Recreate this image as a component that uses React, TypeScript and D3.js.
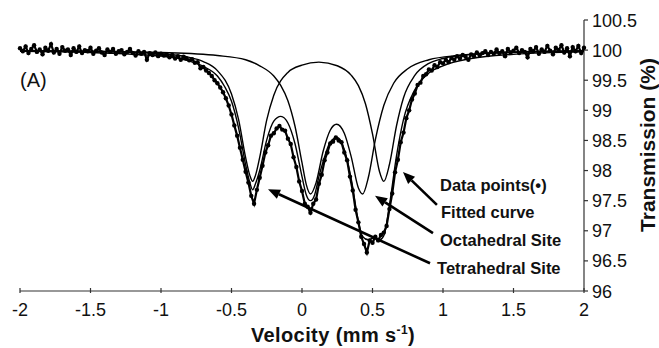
import React from 'react';
import * as d3 from 'd3';

// ---- data ----
const X_TICKS = [-2, -1.5, -1, -0.5, 0, 0.5, 1, 1.5, 2];
const Y_TICKS = [96, 96.5, 97, 97.5, 98, 98.5, 99, 99.5, 100, 100.5];

// measured spectrum, channels from -2 to 2 mm/s in 0.02 steps
const DATA_V0 = -2;
const DATA_STEP = 0.02;
const DATA_T = [
  100.03, 99.98, 100.06, 99.95, 100.02, 100.08, 99.97, 100.01, 99.93, 100.04,
  99.99, 100.1, 99.96, 100.02, 99.94, 100.05, 99.99, 100.01, 99.92, 100.03,
  99.97, 100.06, 99.95, 100.0, 99.98, 100.04, 99.94, 99.99, 100.03, 99.96,
  99.92, 100.01, 99.97, 100.02, 99.94, 99.98, 100.0, 99.93, 99.97, 100.02,
  99.95, 99.91, 99.98, 99.94, 99.97, 99.84, 99.95, 99.92, 99.96, 99.9,
  99.94, 99.91, 99.93, 99.88, 99.92, 99.86, 99.9, 99.84, 99.89, 99.86,
  99.83, 99.85, 99.79, 99.8, 99.7, 99.72, 99.66, 99.62, 99.57, 99.5,
  99.45, 99.38, 99.3, 99.2, 99.08, 98.93, 98.75, 98.58, 98.38, 98.18,
  97.98, 97.8, 97.58, 97.45, 97.68, 97.88, 98.08, 98.3, 98.42, 98.58,
  98.62, 98.7, 98.74, 98.68, 98.66, 98.53, 98.44, 98.22, 98.06, 97.82,
  97.66, 97.45, 97.4, 97.3, 97.45, 97.52, 97.78, 97.93, 98.17, 98.3,
  98.45, 98.48, 98.55, 98.5, 98.47, 98.3, 98.17, 97.9, 97.67, 97.35,
  97.14, 96.9, 96.78, 96.64, 96.84, 96.8, 96.9, 96.84, 96.93, 96.97,
  97.08, 97.36, 97.62, 97.97, 98.18, 98.47, 98.63, 98.87, 99.0, 99.18,
  99.28, 99.42, 99.46, 99.57, 99.6, 99.68, 99.66, 99.75, 99.72, 99.8,
  99.78, 99.84, 99.8, 99.87, 99.84, 99.9, 99.86, 99.92, 99.89, 99.84,
  99.93, 99.9, 99.96, 99.91, 99.95, 99.98, 99.92, 99.97, 99.94, 100.01,
  99.95, 99.98, 99.9, 100.02, 99.96, 99.99, 100.04, 99.95, 100.0, 99.97,
  99.88, 100.02, 99.98, 100.05, 99.94, 100.01, 99.97, 100.07, 99.99, 99.93,
  100.04, 100.0, 100.08, 99.96, 100.03, 99.9, 100.05, 99.98, 100.07, 99.95,
  100.04,
];

// fitted total curve
const FIT_V = [-2, -1.5, -1.2, -1.0, -0.8, -0.7, -0.6, -0.55, -0.5, -0.45, -0.4, -0.37, -0.35, -0.33, -0.3, -0.25, -0.2, -0.15, -0.1, -0.05, 0, 0.03, 0.06, 0.09, 0.12, 0.15, 0.2, 0.25, 0.3, 0.35, 0.4, 0.43, 0.47, 0.51, 0.55, 0.58, 0.62, 0.67, 0.72, 0.8, 0.9, 1.0, 1.2, 1.5, 2];
const FIT_T = [99.98, 99.96, 99.93, 99.9, 99.82, 99.73, 99.57, 99.4, 99.15, 98.71, 98.1, 97.8, 97.68, 97.78, 98.0, 98.51, 98.82, 98.9, 98.79, 98.45, 97.9, 97.6, 97.5, 97.6, 97.9, 98.15, 98.47, 98.55, 98.35, 97.85, 97.15, 96.9, 96.85, 96.88, 96.85, 96.92, 97.42, 98.24, 98.85, 99.34, 99.62, 99.74, 99.86, 99.93, 99.97];

// sub-spectrum with lines near 0.06 and 0.43 mm/s
const SITE_A_V = [-2, -1.5, -1.0, -0.6, -0.4, -0.3, -0.2, -0.15, -0.1, -0.05, 0, 0.03, 0.06, 0.1, 0.15, 0.2, 0.245, 0.3, 0.35, 0.4, 0.43, 0.47, 0.52, 0.58, 0.65, 0.75, 0.9, 1.1, 1.5, 2];
const SITE_A_T = [99.99, 99.98, 99.96, 99.91, 99.84, 99.74, 99.57, 99.41, 99.16, 98.74, 98.13, 97.77, 97.61, 97.8, 98.32, 98.67, 98.77, 98.62, 98.22, 97.71, 97.61, 97.88, 98.51, 99.08, 99.45, 99.69, 99.84, 99.91, 99.96, 99.98];

// sub-spectrum with lines near -0.35 and 0.58 mm/s
const SITE_B_V = [-2, -1.5, -1.2, -1.0, -0.8, -0.7, -0.6, -0.5, -0.45, -0.4, -0.37, -0.35, -0.33, -0.3, -0.25, -0.2, -0.1, 0, 0.12, 0.25, 0.35, 0.4, 0.45, 0.5, 0.55, 0.58, 0.62, 0.67, 0.72, 0.8, 0.9, 1.0, 1.2, 1.5, 2];
const SITE_B_T = [99.99, 99.98, 99.96, 99.94, 99.88, 99.81, 99.66, 99.27, 98.85, 98.22, 97.92, 97.82, 97.92, 98.22, 98.84, 99.25, 99.63, 99.75, 99.8, 99.74, 99.58, 99.41, 99.11, 98.61, 97.98, 97.82, 98.1, 98.74, 99.21, 99.58, 99.78, 99.86, 99.93, 99.97, 99.99];

const LABELS = ['Data points(\u2022)', 'Fitted curve', 'Octahedral Site', 'Tetrahedral Site'];
const LABEL_V = [0.979, 0.986, 0.979, 0.958];
const LABEL_T = [97.66, 97.21, 96.75, 96.29];

// arrows: tail -> head, in data coordinates
const ARROW_TAIL_V = [0.957, 0.929, 0.908];
const ARROW_TAIL_T = [97.43, 96.96, 96.46];
const ARROW_HEAD_V = [0.716, 0.518, -0.241];
const ARROW_HEAD_T = [97.975, 97.58, 97.69];

const W = 659;
const H = 348;
const FONT = "'Liberation Sans', Arial, Helvetica, sans-serif";

export default function App() {
  const x = d3.scaleLinear().domain([-2, 2]).range([20, 584]);
  const y = d3.scaleLinear().domain([96, 100.5]).range([291, 20]);

  const data = DATA_T.map((t, i) => ({ v: DATA_V0 + i * DATA_STEP, t }));
  const mk = (vs: number[], ts: number[]) => vs.map((v, i) => ({ v, t: ts[i] }));

  const line = d3
    .line<{ v: number; t: number }>()
    .x((d) => x(d.v))
    .y((d) => y(d.t))
    .curve(d3.curveMonotoneX);
  const rawLine = d3
    .line<{ v: number; t: number }>()
    .x((d) => x(d.v))
    .y((d) => y(d.t));

  const arrows = ARROW_TAIL_V.map((tv, i) => {
    const x1 = x(tv);
    const y1 = y(ARROW_TAIL_T[i]);
    const x2 = x(ARROW_HEAD_V[i]);
    const y2 = y(ARROW_HEAD_T[i]);
    const ang = Math.atan2(y2 - y1, x2 - x1);
    const L = 12;
    const hw = 5;
    const bx = x2 - L * Math.cos(ang);
    const by = y2 - L * Math.sin(ang);
    const px = -Math.sin(ang) * hw;
    const py = Math.cos(ang) * hw;
    return {
      x1,
      y1,
      bx,
      by,
      head: `${x2},${y2} ${bx + px},${by + py} ${bx - px},${by - py}`,
    };
  });

  return (
    <svg
      width={W}
      height={H}
      viewBox={`0 0 ${W} ${H}`}
      style={{ position: 'absolute', left: 0, top: 0, background: '#fff' }}
      fontFamily={FONT}
    >
      <rect x={0} y={0} width={W} height={H} fill="#fff" />

      {/* x axis */}
      <line x1={x(-2)} x2={x(2)} y1={y(96)} y2={y(96)} stroke="#333" strokeWidth={1.2} />
      {X_TICKS.map((t) => (
        <g key={'xt' + t}>
          <line x1={x(t)} x2={x(t)} y1={y(96) - 3} y2={y(96) + 2} stroke="#333" strokeWidth={1.2} />
          <text x={x(t)} y={316} textAnchor="middle" fontSize={18} fill="#111">
            {t}
          </text>
        </g>
      ))}
      <text x={333} y={342} textAnchor="middle" fontSize={20} fontWeight="bold" fill="#111" letterSpacing={0.4}>
        Velocity (mm s
        <tspan fontSize={12} dy={-8}>-1</tspan>
        <tspan dy={8}>)</tspan>
      </text>

      {/* right y axis */}
      <line x1={x(2)} x2={x(2)} y1={y(100.5)} y2={y(96)} stroke="#333" strokeWidth={1.2} />
      {Y_TICKS.map((t) => (
        <g key={'yt' + t}>
          <line x1={x(2)} x2={x(2) + 4} y1={y(t)} y2={y(t)} stroke="#333" strokeWidth={1.2} />
          <text x={592} y={y(t) + 6.5} fontSize={18} fill="#111">
            {t}
          </text>
        </g>
      ))}
      <text
        transform={`translate(655,${145}) rotate(-90)`}
        textAnchor="middle"
        fontSize={21}
        fontWeight="bold"
        fill="#111"
      >
        Transmission (%)
      </text>

      <text x={20} y={87} fontSize={20} fill="#111">
        (A)
      </text>

      {/* data points */}
      <path d={rawLine(data) || ''} fill="none" stroke="#000" strokeWidth={2.2} />
      {data.map((d, i) => (
        <circle key={'p' + i} cx={x(d.v)} cy={y(d.t)} r={2.2} fill="#000" />
      ))}

      {/* sub-spectra and fit */}
      <path d={line(mk(SITE_A_V, SITE_A_T)) || ''} fill="none" stroke="#000" strokeWidth={1.4} />
      <path d={line(mk(SITE_B_V, SITE_B_T)) || ''} fill="none" stroke="#000" strokeWidth={1.4} />
      <path d={line(mk(FIT_V, FIT_T)) || ''} fill="none" stroke="#000" strokeWidth={1.4} />

      {/* arrows */}
      {arrows.map((a, i) => (
        <g key={'ar' + i}>
          <line x1={a.x1} y1={a.y1} x2={a.bx} y2={a.by} stroke="#000" strokeWidth={2.6} />
          <polygon points={a.head} fill="#000" />
        </g>
      ))}

      {/* labels */}
      {LABELS.map((l, i) => (
        <text key={'lb' + i} x={x(LABEL_V[i])} y={y(LABEL_T[i])} fontSize={16.5} fontWeight="bold" fill="#111">
          {l}
        </text>
      ))}
    </svg>
  );
}
